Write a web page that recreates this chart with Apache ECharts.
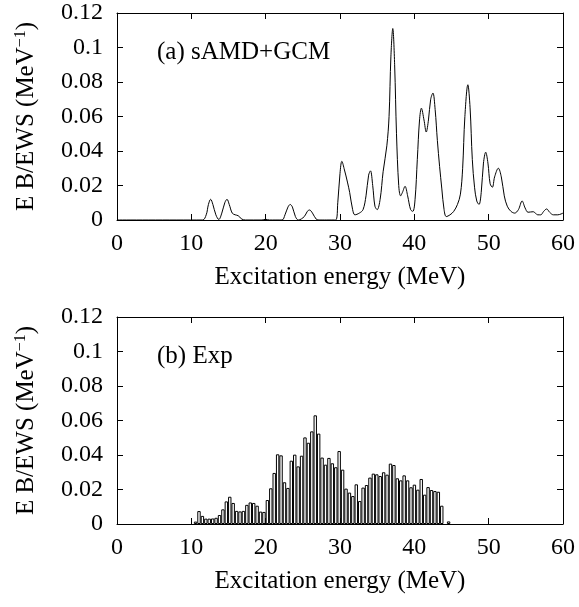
<!DOCTYPE html>
<html>
<head>
<meta charset="utf-8">
<script src="https://cdn.jsdelivr.net/npm/echarts@6/dist/echarts.min.js"></script>
<style>
  html, body { margin: 0; padding: 0; background: #fff; }
  #main { width: 579px; height: 607px; }
</style>
</head>
<body>
<div id="main"></div>
<script>
// (a) sAMD+GCM strength curve: energy (MeV) / value
var calcEnergy = [0, 11.5, 12.0, 12.3, 12.6, 12.9, 13.3, 13.7, 14.1, 14.5, 14.8, 15.1, 15.5, 15.9, 16.3, 16.8, 17.3,
  19.5, 20.0, 20.5, 22.2, 22.6, 23.0, 23.3, 23.6, 24.0, 24.4, 25.2, 25.6, 25.9, 26.3, 26.8, 27.3,
  29.4, 29.7, 30.0, 30.25, 30.6, 31.0, 31.3, 31.7, 32.0, 32.6, 33.1, 33.5, 33.85, 34.1, 34.4, 34.7,
  35.0, 35.4, 35.8, 36.3, 36.6, 36.85, 37.1, 37.35, 37.6, 37.9, 38.15, 38.4, 38.75, 39.1, 39.5, 39.8,
  40.1, 40.4, 40.7, 40.95, 41.3, 41.6, 41.9, 42.2, 42.5, 42.8, 43.1, 43.4, 43.7, 44.0, 44.3, 44.8,
  45.3, 45.8, 46.2, 46.5, 46.8, 47.2, 47.5, 47.8, 48.1, 48.4, 48.7, 49.0, 49.3, 49.6, 49.9, 50.2,
  50.5, 50.8, 51.3, 51.7, 52.1, 52.5, 53.0, 53.5, 54.0, 54.5, 54.9, 55.3, 56.0, 56.6, 57.0, 57.4,
  57.8, 58.2, 58.7, 59.3, 60];
var calcValue = [0, 0, 0.003, 0.009, 0.012, 0.009, 0.003, 0.0003, 0.004, 0.010, 0.012, 0.009, 0.004, 0.003, 0.0025, 0.0005, 0,
  0, 0.0004, 0, 0, 0.003, 0.0075, 0.009, 0.0075, 0.002, 0, 0.002, 0.005, 0.0058, 0.004, 0.0005, 0,
  0, 0.010, 0.027, 0.034, 0.029, 0.022, 0.016, 0.006, 0.003, 0.004, 0.006, 0.014, 0.026, 0.0285, 0.020, 0.008,
  0.006, 0.012, 0.028, 0.043, 0.060, 0.095, 0.111, 0.090, 0.050, 0.020, 0.014, 0.016, 0.0195, 0.014, 0.006, 0.005,
  0.012, 0.035, 0.058, 0.0648, 0.058, 0.051, 0.058, 0.070, 0.0736, 0.064, 0.046, 0.031, 0.018, 0.006, 0.002, 0.003,
  0.005, 0.009, 0.015, 0.030, 0.060, 0.0784, 0.065, 0.035, 0.019, 0.011, 0.009, 0.016, 0.033, 0.0393, 0.033, 0.021,
  0.019, 0.025, 0.030, 0.025, 0.014, 0.008, 0.005, 0.004, 0.006, 0.011, 0.007, 0.0045, 0.0048, 0.003, 0.003, 0.005,
  0.0064, 0.0045, 0.003, 0.003, 0.004];

// (b) Exp histogram: bin centre (MeV) / value
var expEnergy = [10.57, 11.03, 11.49, 11.95, 12.41, 12.87, 13.33, 13.79, 14.25, 14.71, 15.17, 15.63, 16.09, 16.55,
  17.01, 17.47, 17.93, 18.39, 18.85, 19.31, 19.77, 20.23, 20.69, 21.15, 21.61, 22.07, 22.53, 22.99, 23.45,
  23.91, 24.37, 24.83, 25.29, 25.75, 26.21, 26.67, 27.13, 27.59, 28.05, 28.51, 28.97, 29.43, 29.89, 30.35,
  30.81, 31.27, 31.73, 32.19, 32.65, 33.11, 33.57, 34.03, 34.49, 34.95, 35.41, 35.87, 36.33, 36.79, 37.25,
  37.71, 38.17, 38.63, 39.09, 39.55, 40.01, 40.47, 40.93, 41.39, 41.85, 42.31, 42.77, 43.23, 43.69, 44.61];
var expValue = [0.0014, 0.0075, 0.0047, 0.0031, 0.0031, 0.0032, 0.0036, 0.0052, 0.0085, 0.0131, 0.0158, 0.0122, 0.0076, 0.0073,
  0.0076, 0.0111, 0.0125, 0.0122, 0.0106, 0.0072, 0.0070, 0.0139, 0.0207, 0.0296, 0.0404, 0.0398, 0.0242, 0.0209, 0.0367,
  0.0402, 0.0334, 0.0396, 0.0502, 0.0471, 0.0537, 0.0630, 0.0524, 0.0385, 0.0344, 0.0383, 0.0352, 0.0329, 0.0423, 0.0315,
  0.0205, 0.0182, 0.0162, 0.0230, 0.0133, 0.0211, 0.0226, 0.0269, 0.0292, 0.0288, 0.0278, 0.0300, 0.0286, 0.0350, 0.0342,
  0.0265, 0.0253, 0.0282, 0.0253, 0.0213, 0.0228, 0.0199, 0.0261, 0.0170, 0.0214, 0.0197, 0.0191, 0.0187, 0.0106, 0.0015];

var xTicks = [0, 10, 20, 30, 40, 50, 60];
var yTicks = [0, 0.02, 0.04, 0.06, 0.08, 0.1, 0.12];

var FONT = '"Liberation Serif", "DejaVu Serif", serif';
var FS = 24;
var NAME_FS = 25;

function xAxisFor(grid, top) {
  return {
    type: 'value', gridIndex: grid, position: top ? 'top' : 'bottom',
    min: xTicks[0], max: xTicks[xTicks.length - 1], interval: 10,
    axisLine: {show: true, onZero: false, lineStyle: {color: '#000', width: 1}},
    axisTick: {show: true, inside: true, length: 6, lineStyle: {color: '#000'}},
    axisLabel: {show: !top, margin: 12, fontFamily: FONT, fontSize: FS, color: '#000'},
    splitLine: {show: false},
    name: top ? '' : 'Excitation energy (MeV)',
    nameLocation: 'middle', nameGap: 45,
    nameTextStyle: {fontFamily: FONT, fontSize: NAME_FS, color: '#000'}
  };
}

function yAxisFor(grid, right) {
  return {
    type: 'value', gridIndex: grid, position: right ? 'right' : 'left',
    min: yTicks[0], max: yTicks[yTicks.length - 1], interval: 0.02,
    axisLine: {show: true, onZero: false, lineStyle: {color: '#000', width: 1}},
    axisTick: {show: true, inside: true, length: 6, lineStyle: {color: '#000'}},
    axisLabel: {show: !right, margin: 14, fontFamily: FONT, fontSize: FS, color: '#000'},
    splitLine: {show: false},
    name: right ? '' : 'E B/EWS (MeV{sup|−1})',
    nameLocation: 'middle', nameGap: 78,
    nameTextStyle: {
      fontFamily: FONT, fontSize: NAME_FS, color: '#000',
      rich: {sup: {fontFamily: FONT, fontSize: 16, color: '#000', verticalAlign: 'top', padding: [0, 0, 10, 0]}}
    }
  };
}

var calcData = calcEnergy.map(function (e, i) { return [e, calcValue[i]]; });
var expData = expEnergy.map(function (e, i) { return [e, expValue[i]]; });

var chart = echarts.init(document.getElementById('main'), null, {renderer: 'canvas'});
chart.setOption({
  animation: false,
  backgroundColor: '#fff',
  title: [
    {text: '(a) sAMD+GCM', left: 152, top: 35, textStyle: {fontFamily: FONT, fontSize: 25, fontWeight: 'normal', color: '#000'}},
    {text: '(b) Exp', left: 152, top: 339, textStyle: {fontFamily: FONT, fontSize: 25, fontWeight: 'normal', color: '#000'}}
  ],
  grid: [
    {left: 117, top: 13, width: 446, height: 207},
    {left: 117, top: 317, width: 446, height: 207}
  ],
  xAxis: [xAxisFor(0, false), xAxisFor(0, true), xAxisFor(1, false), xAxisFor(1, true)],
  yAxis: [yAxisFor(0, false), yAxisFor(0, true), yAxisFor(1, false), yAxisFor(1, true)],
  series: [
    {
      type: 'line', xAxisIndex: 0, yAxisIndex: 0, data: calcData,
      smooth: 0.35, showSymbol: false,
      lineStyle: {color: '#000', width: 1}
    },
    {
      type: 'bar', xAxisIndex: 2, yAxisIndex: 2, data: expData,
      barWidth: 3.4,
      itemStyle: {color: '#fff', borderColor: '#000', borderWidth: 1}
    }
  ]
});
</script>
</body>
</html>
